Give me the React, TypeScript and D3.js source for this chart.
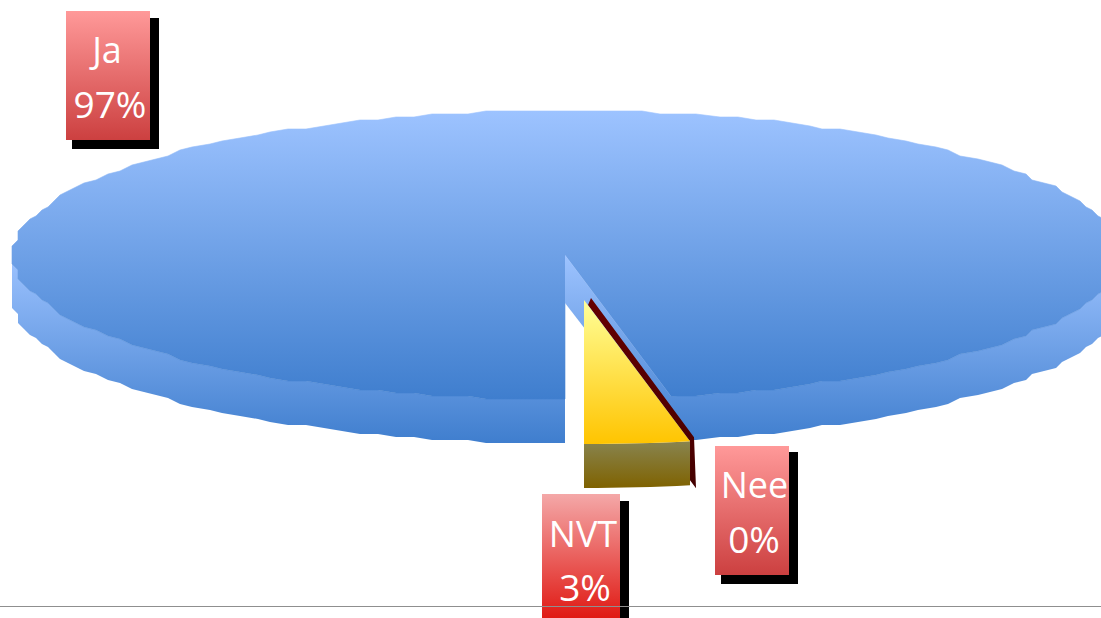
import React from "react";
import * as d3 from "d3";

const categories = ["Ja", "Nee", "NVT"];
const percents = [96.93, 0, 3.07];

const WIDTH = 1101;
const HEIGHT = 618;
const CX = 565;
const CY = 255;
const RX = 553;
const RY = 144;
const DEPTH = 44;

type Pt = [number, number];
const labelBoxes: Record<string, { x: number; y: number; w: number; h: number; tx: number; tx2: number; by: [number, number]; sx: number; sy: number; sw: number; sh: number; grad: string }> = {
  Ja: { x: 66, y: 11, w: 84, h: 129, tx: 107, tx2: 110, by: [63, 118], sx: 72, sy: 18, sw: 87, sh: 131, grad: "lab" },
  Nee: { x: 715, y: 446, w: 74, h: 129, tx: 754.5, tx2: 754, by: [498, 553], sx: 721, sy: 452, sw: 77, sh: 132, grad: "lab" },
  NVT: { x: 542, y: 494, w: 78, h: 124, tx: 583, tx2: 585, by: [547, 601], sx: 548, sy: 501, sw: 81, sh: 117, grad: "labNvt" },
};

const pieGen = d3.pie<number>().sort(null).startAngle(Math.PI).endAngle(3 * Math.PI);
const arcs = pieGen(percents);
const jaArc = arcs[0];
const neeArc = arcs[1];
const nvtArc = arcs[2];

const px = d3.scaleLinear().domain([-1, 1]).range([CX - RX, CX + RX]);
const py = d3.scaleLinear().domain([-1, 1]).range([CY - RY, CY + RY]);
const project = (a: number, dx = 0, dy = 0): Pt => [px(Math.sin(a)) + dx, py(-Math.cos(a)) + dy];
const line = d3.line<Pt>();
const sample = (a0: number, a1: number, dx = 0, dy = 0): Pt[] => {
  const n = Math.max(2, Math.ceil((Math.abs(a1 - a0) / (2 * Math.PI)) * 240));
  return d3.range(n + 1).map((i) => project(a0 + ((a1 - a0) * i) / n, dx, dy));
};
// The reference outline is coarse: snap the rim to a grid, which gives its lumpy edge.
const GX = 6;
const GY = 3;
const STEP = (2 * Math.PI) / 180;
const snap = ([x, y]: Pt): Pt => [
  CX - RX + Math.round((x - (CX - RX)) / GX) * GX,
  CY - RY + Math.round((y - (CY - RY)) / GY) * GY,
];
// Angles on one fixed grid, so the top face and the side wall share their rim exactly.
const lumpy = (a0: number, a1: number, dy = 0): Pt[] => {
  const lo = Math.min(a0, a1);
  const hi = Math.max(a0, a1);
  const inner = d3
    .range(Math.ceil(lo / STEP + 1e-6), Math.floor(hi / STEP - 1e-6) + 1)
    .map((k) => snap(project(k * STEP)));
  const pts: Pt[] = [project(lo), ...inner, project(hi)];
  const ordered = a0 <= a1 ? pts : pts.reverse();
  return ordered.map(([x, y]) => [x, y + dy] as Pt);
};
const closed = (pts: Pt[]) => (line(pts) ?? "") + "Z";
const wedge = (a0: number, a1: number, dx = 0, dy = 0) =>
  closed([[CX + dx, CY + dy], ...sample(a0, a1, dx, dy)]);
const band = (a0: number, a1: number, dx = 0, dy = 0, depth = DEPTH) =>
  closed([...sample(a0, a1, dx, dy), ...sample(a1, a0, dx, dy + depth)]);
const lumpyBand = (a0: number, a1: number, depth = DEPTH) =>
  closed([...lumpy(a0, a1), ...lumpy(a1, a0, depth)]);

const TWO = 2 * Math.PI;
const jaEnd = jaArc.endAngle;
const jaLowerLeft = lumpyBand(Math.PI, Math.PI * 1.5);
const jaLowerRight = lumpyBand(Math.PI / 2, jaEnd - TWO);
const jaEdge = project(jaEnd);
const jaWall = closed([
  [CX, CY],
  jaEdge,
  [jaEdge[0], jaEdge[1] + DEPTH],
  [CX, CY + DEPTH + 4],
]);

const NVT_DX = 19;
const NVT_DY = 45;
const NVT_DEPTH = 44;
const NEE_DX = 23;
const NEE_DY = 41;

const neeEdge = project(neeArc.startAngle - TWO, NEE_DX, NEE_DY);
const nvtEdge = project(nvtArc.startAngle - TWO, NVT_DX, NVT_DY);
const neeWall = closed([
  [CX + 26, CY + 43],
  neeEdge,
  [neeEdge[0] + 2, neeEdge[1] + 51],
  [nvtEdge[0], nvtEdge[1] + 39],
  nvtEdge,
  [CX + NVT_DX + 4, CY + NVT_DY + 5],
]);

const labelFont = "'Open Sans', 'Noto Sans', sans-serif";

export default function App() {
  return (
    <svg
      width={WIDTH}
      height={HEIGHT}
      viewBox={`0 0 ${WIDTH} ${HEIGHT}`}
      style={{ position: "absolute", left: 0, top: 0, display: "block", background: "#fff" }}
    >
      <defs>
        <linearGradient id="blueTop" gradientUnits="userSpaceOnUse" x1="0" x2="0" y1={CY - RY} y2={CY + RY}>
          <stop offset="0" stopColor="#9DC3FF" />
          <stop offset="1" stopColor="#3F7ECE" />
        </linearGradient>
        <linearGradient id="blueSide" gradientUnits="userSpaceOnUse" x1="0" x2="0" y1={CY} y2={CY + RY + DEPTH}>
          <stop offset="0" stopColor="#9DC3FF" />
          <stop offset="1" stopColor="#3F7ECE" />
        </linearGradient>
        <linearGradient id="yellowTop" x1="0" x2="0" y1="0" y2="1">
          <stop offset="0" stopColor="#FFFF99" />
          <stop offset="1" stopColor="#FFC400" />
        </linearGradient>
        <linearGradient id="yellowSide" x1="0" x2="0" y1="0" y2="1">
          <stop offset="0" stopColor="#88844F" />
          <stop offset="1" stopColor="#7F6200" />
        </linearGradient>
        <linearGradient id="darkWall" x1="0" x2="0" y1="0" y2="1">
          <stop offset="0" stopColor="#660000" />
          <stop offset="1" stopColor="#440000" />
        </linearGradient>
        <linearGradient id="lab" x1="0" x2="0" y1="0" y2="1">
          <stop offset="0" stopColor="#FF9999" />
          <stop offset="1" stopColor="#CC4040" />
        </linearGradient>
        <linearGradient id="labNvt" x1="0" x2="0" y1="0" y2="1">
          <stop offset="0" stopColor="#F4A8A8" />
          <stop offset="1" stopColor="#E01A14" />
        </linearGradient>
      </defs>

      <path d={jaLowerLeft} fill="url(#blueSide)" />
      <path d={jaLowerRight} fill="url(#blueSide)" />
      <path d={closed([[CX, CY], ...lumpy(jaArc.startAngle, jaArc.endAngle)])} fill="url(#blueTop)" stroke="url(#blueTop)" strokeWidth={0.6} />
      <path d={jaWall} fill="url(#blueSide)" />

      <path d={neeWall} fill="url(#darkWall)" />
      <path d={band(nvtArc.startAngle - TWO, nvtArc.endAngle - TWO, NVT_DX, NVT_DY, NVT_DEPTH)} fill="url(#yellowSide)" />
      <path d={wedge(nvtArc.startAngle - TWO, nvtArc.endAngle - TWO, NVT_DX, NVT_DY)} fill="url(#yellowTop)" />

      {categories.map((c, i) => {
        const b = labelBoxes[c];
        return (
          <g key={c}>
            <rect x={b.sx} y={b.sy} width={b.sw} height={b.sh} fill="#000" />
            <rect x={b.x} y={b.y} width={b.w} height={b.h} fill={`url(#${b.grad})`} />
            <text x={b.tx} y={b.by[0]} textAnchor="middle" fontFamily={labelFont} fontWeight={400} fontSize={36} fill="#fff">{c}</text>
            <text x={b.tx2} y={b.by[1]} textAnchor="middle" fontFamily={labelFont} fontWeight={400} fontSize={37} fill="#fff">{`${Math.round(percents[i])}%`}</text>
          </g>
        );
      })}
      <line x1={0} x2={WIDTH} y1={606.5} y2={606.5} stroke="#8f8f8f" strokeWidth={1} />
    </svg>
  );
}
